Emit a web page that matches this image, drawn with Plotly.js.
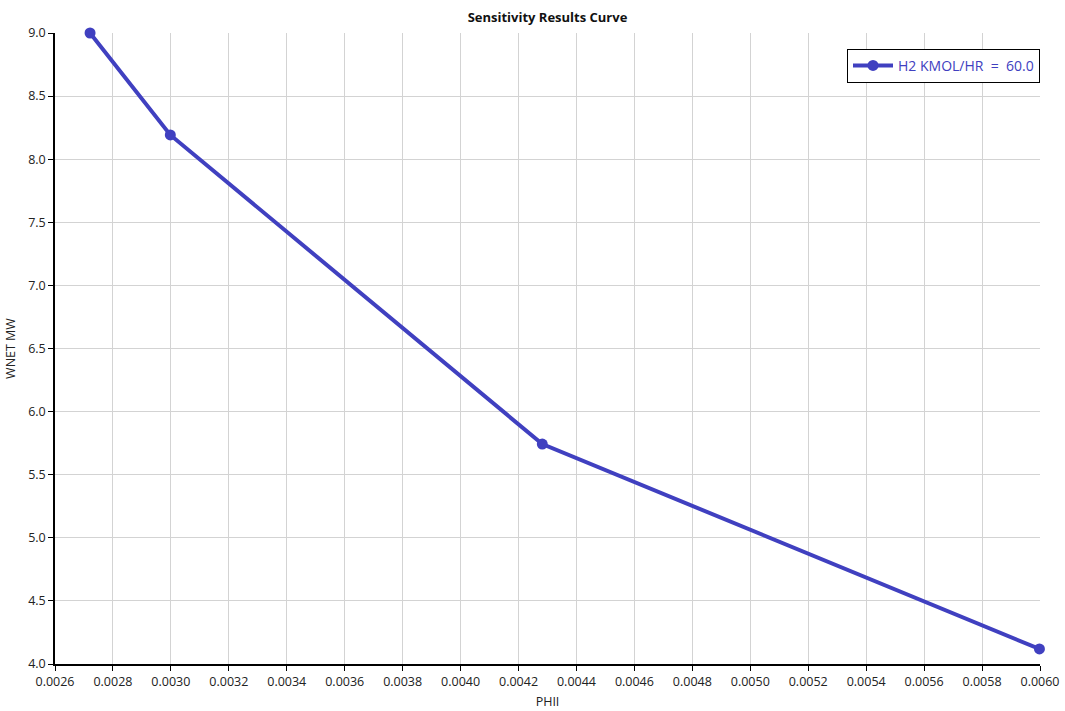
<!DOCTYPE html>
<html>
<head>
<meta charset="utf-8">
<script src="https://cdn.plot.ly/plotly-3.0.1.min.js"></script>
<style>html,body{margin:0;padding:0;background:#fff;}#chart{width:1065px;height:711px;}</style>
</head>
<body>
<div id="chart"></div>
<script>
const phii = [0.002721, 0.002998, 0.004282, 0.005998];
const wnet = [9.0, 8.192, 5.743, 4.119];
const seriesName = "H2 KMOL/HR  =  60.0";
const lineColor = "#4040C0";

const trace = {
  x: phii, y: wnet, type: "scatter", mode: "lines+markers", name: seriesName,
  line: {color: lineColor, width: 4},
  marker: {color: lineColor, size: 11},
  cliponaxis: false
};
const font = "'Open Sans', 'Noto Sans', sans-serif";
const layout = {
  width: 1065, height: 711,
  margin: {l: 55, r: 25, t: 33, b: 47},
  paper_bgcolor: "#fff", plot_bgcolor: "#fff",
  font: {family: font, size: 12, color: "#222"},
  title: {text: "<b>Sensitivity Results Curve</b>", x: 0.5, xref: "paper", y: 0.982, yanchor: "top", font: {size: 13, color: "#111"}},
  showlegend: true,
  legend: {x: 1.0, xanchor: "right", y: 0.975, yanchor: "top", bgcolor: "#fff", bordercolor: "#000", borderwidth: 1, itemwidth: 40, font: {color: lineColor, size: 14}},
  xaxis: {
    range: [0.0026, 0.0060], dtick: 0.0002, tick0: 0.0026, tickformat: ".4f",
    showgrid: true, gridcolor: "#d3d3d3", gridwidth: 1, zeroline: false,
    showline: true, linecolor: "#000", linewidth: 1.5, ticks: "outside", ticklen: 5, tickcolor: "#000",
    tickfont: {size: 12.5},
    title: {text: "PHII", standoff: 8, font: {size: 12.5}}
  },
  yaxis: {
    range: [4, 9], dtick: 0.5, tickformat: ".1f",
    showgrid: true, gridcolor: "#d3d3d3", gridwidth: 1, zeroline: false,
    showline: true, linecolor: "#000", linewidth: 1.5, ticks: "outside", ticklen: 5, tickcolor: "#000",
    tickfont: {size: 12.5},
    title: {text: "WNET MW", standoff: 10, font: {size: 12.5}}
  }
};
Plotly.newPlot("chart", [trace], layout, {displayModeBar: false});
</script>
</body>
</html>
